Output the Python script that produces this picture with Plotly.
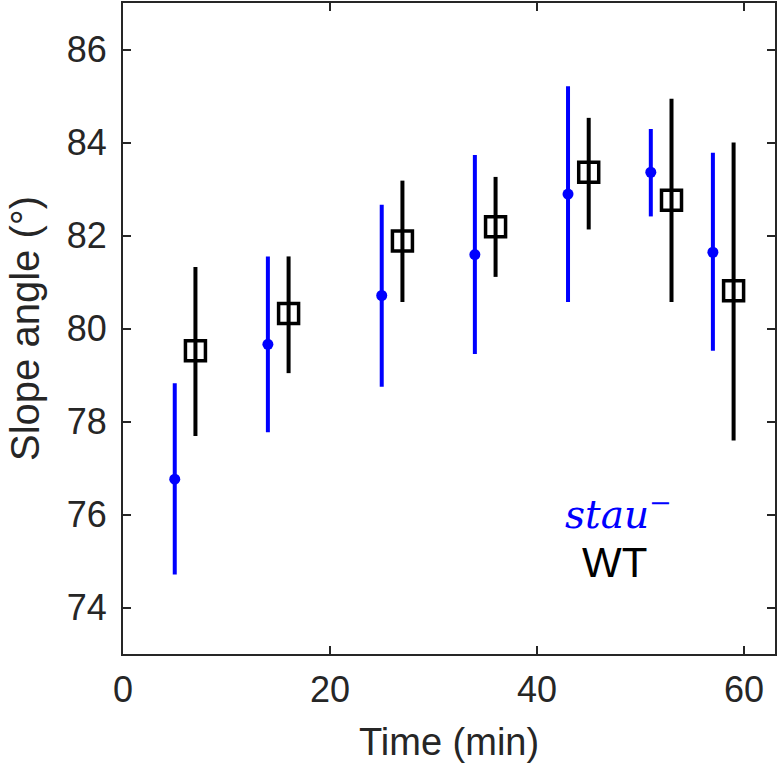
import plotly.graph_objects as go

# stau- mutant
stau_time = [5, 14, 25, 34, 43, 51, 57]
stau_mean = [76.76, 79.66, 80.71, 81.59, 82.89, 83.36, 81.64]
stau_upper = [78.82, 81.55, 82.66, 83.73, 85.21, 84.29, 83.78]
stau_lower = [74.71, 77.77, 78.75, 79.45, 80.57, 82.41, 79.52]

# wild type
wt_time = [7, 16, 27, 36, 45, 53, 59]
wt_mean = [79.52, 80.32, 81.88, 82.19, 83.36, 82.76, 80.81]
wt_upper = [81.32, 81.55, 83.18, 83.26, 84.53, 84.94, 84.00]
wt_lower = [77.69, 79.04, 80.57, 81.11, 82.13, 80.57, 77.59]

x_ticks = [0, 20, 40, 60]
y_ticks = [74, 76, 78, 80, 82, 84, 86]

BLUE = "#0000ff"
AX = "#262626"
FONT = "Liberation Sans, Arial, Helvetica, sans-serif"

fig = go.Figure()
fig.add_trace(go.Scatter(
    x=stau_time, y=stau_mean, mode="markers",
    marker=dict(symbol="circle", size=11, color=BLUE, line=dict(width=0)),
    error_y=dict(type="data", symmetric=False,
                 array=[u - m for u, m in zip(stau_upper, stau_mean)],
                 arrayminus=[m - l for m, l in zip(stau_mean, stau_lower)],
                 color=BLUE, thickness=4, width=0),
    showlegend=False,
))
fig.add_trace(go.Scatter(
    x=wt_time, y=wt_mean, mode="markers",
    marker=dict(symbol="square-open", size=20, color="black", line=dict(width=3.5, color="black")),
    error_y=dict(type="data", symmetric=False,
                 array=[u - m for u, m in zip(wt_upper, wt_mean)],
                 arrayminus=[m - l for m, l in zip(wt_mean, wt_lower)],
                 color="black", thickness=4, width=0),
    showlegend=False,
))

fig.add_annotation(x=47.9, y=76.05, xref="x", yref="y", showarrow=False,
                   text="<i>stau</i><sup>−</sup>",
                   font=dict(family="DejaVu Serif", size=39, color=BLUE))
fig.add_annotation(x=47.5, y=74.97, xref="x", yref="y", showarrow=False,
                   text="WT",
                   font=dict(family=FONT, size=42, color="black"))
# x-axis title
fig.add_annotation(x=0.5, y=0, xref="paper", yref="paper", showarrow=False,
                   yanchor="middle", yshift=-88,
                   text="Time (min)",
                   font=dict(family=FONT, size=38, color=AX))

axis_common = dict(
    showline=True, linecolor=AX, linewidth=2, mirror="ticks",
    ticks="inside", ticklen=8, tickwidth=1.5, tickcolor=AX,
    showgrid=False, zeroline=False, automargin=False,
    tickfont=dict(family=FONT, size=36, color=AX),
)

fig.update_layout(
    width=778, height=765,
    margin=dict(l=123, r=3, t=3, b=111, autoexpand=False),
    paper_bgcolor="white", plot_bgcolor="white",
    xaxis=dict(range=[0, 63], tickvals=x_ticks, ticklabelstandoff=3,
               **axis_common),
    yaxis=dict(range=[73, 87], tickvals=y_ticks, ticklabelstandoff=7,
               title=dict(text="Slope angle (°)", font=dict(family=FONT, size=40, color=AX), standoff=15),
               **axis_common),
)

fig.write_html("out.html", config={"displayModeBar": False},
               post_script="document.body.style.margin='0';document.body.style.padding='0';document.body.style.overflow='hidden';")
